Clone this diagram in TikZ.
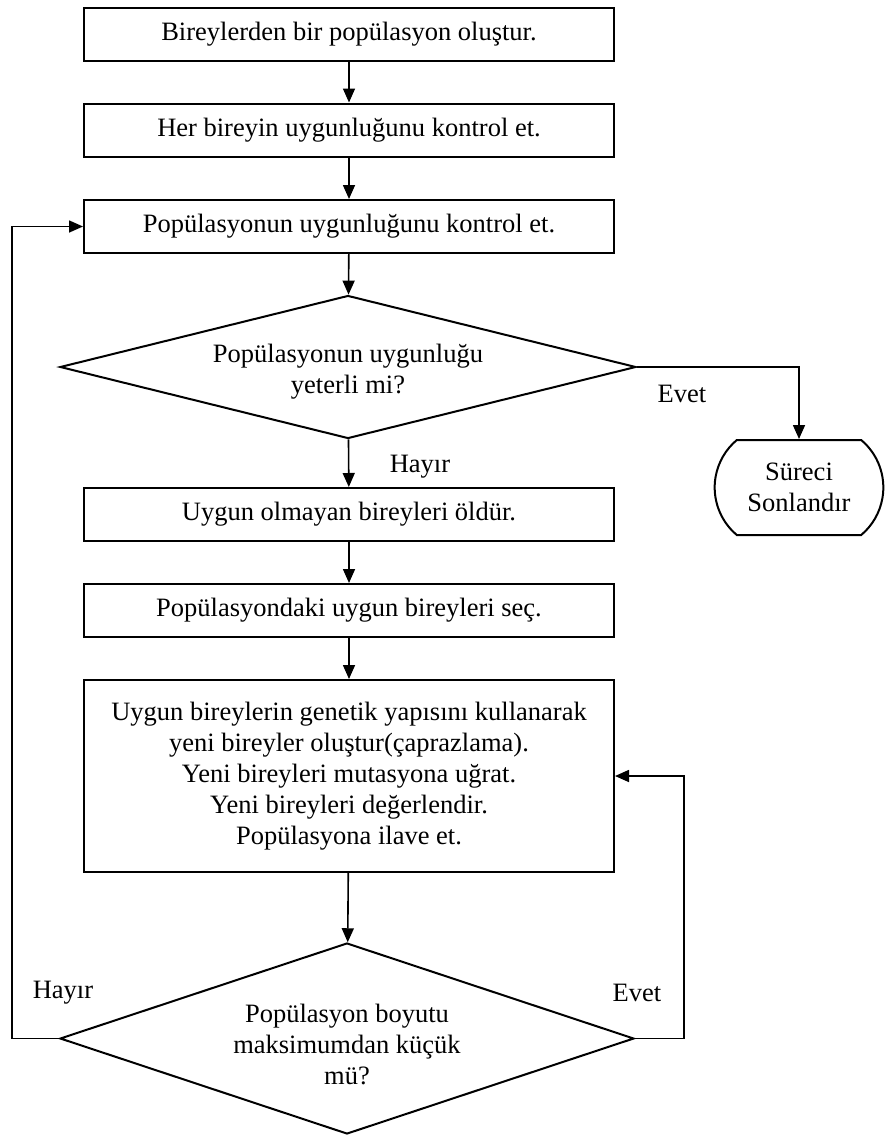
\documentclass[tikz,border=0pt]{standalone}
\usepackage{fontspec}
\setmainfont{Liberation Serif}
\usetikzlibrary{
  positioning, shapes.geometric, shapes.misc, arrows.meta
}
\tikzset{
  process/.style={
    draw, line width=1pt, inner sep=0pt,
    minimum width=265pt, minimum height=26.5pt,
    align=center
  },
  decision/.style={
    diamond, draw, line width=1pt, inner sep=0pt
  },
  terminal/.style={
    rounded rectangle, rounded rectangle arc length=100,
    draw, line width=1pt,
    minimum width=91pt, minimum height=47.5pt,
    align=center
  },
  arrow/.style={-{Triangle[length=7pt, width=6pt]}, line width=0.8pt},
  answer/.style={inner sep=0pt}
}

\begin{document}
\begin{tikzpicture}[x=0.5pt, y=-0.5pt, font=\fontsize{13.25}{15.5}\selectfont]
\useasboundingbox (0,0) rectangle (892,1135);

%% Main column
\node[process] (b1) at (349,34) {Bireylerden bir popülasyon oluştur.};
\node[process] (b2) at (349,130) {Her bireyin uygunluğunu kontrol et.};
\node[process] (b3) at (349,226.5) {Popülasyonun uygunluğunu kontrol et.};
\node[decision, minimum width=288pt, minimum height=71.5pt] (d1) at (348,367) {};
\node[align=center] (d1txt) at (348,372) {Popülasyonun uygunluğu\\yeterli mi?};
\node[process] (b4) at (349,514.5) {Uygun olmayan bireyleri öldür.};
\node[process] (b5) at (349,610.5) {Popülasyondaki uygun bireyleri seç.};
\node[process, minimum height=96pt] (b6) at (349,776) {Uygun bireylerin genetik yapısını kullanarak\\
  yeni bireyler oluştur(çaprazlama).\\Yeni bireyleri mutasyona uğrat.\\
  Yeni bireyleri değerlendir.\\Popülasyona ilave et.};
\node[decision, minimum width=287pt, minimum height=95.5pt] (d2) at (347,1038.5) {};
\node[align=center] (d2txt) at (347,1044) {Popülasyon boyutu\\maksimumdan küçük\\mü?};

%% End
\node[terminal] (end) at (799,487.5) {Süreci\\Sonlandır};

%% Answers
\node[answer] (no1) at (420,467) {Hayır};
\node[answer] (yes1) at (682,394) {Evet};
\node[answer] (no2) at (63,993) {Hayır};
\node[answer] (yes2) at (637,993) {Evet};

%% Flow
\draw[arrow] (b1) -- (b2);
\draw[arrow] (b2) -- (b3);
\draw[arrow] (b3) -- (d1);
\draw[arrow] (d1) -- (b4);
\draw[arrow] (b4) -- (b5);
\draw[arrow] (b5) -- (b6);
\draw[arrow] (b6) -- (d2);
\draw[arrow] (d1.east) -| (end.north);

%% Loops
\coordinate (loopL) at (12,1038.5);
\coordinate (loopR) at (684,1038.5);
\draw[arrow] (d2.west) -- (loopL) |- (b3.west);
\draw[arrow] (d2.east) -- (loopR) |- (b6.east);
\end{tikzpicture}
\end{document}
